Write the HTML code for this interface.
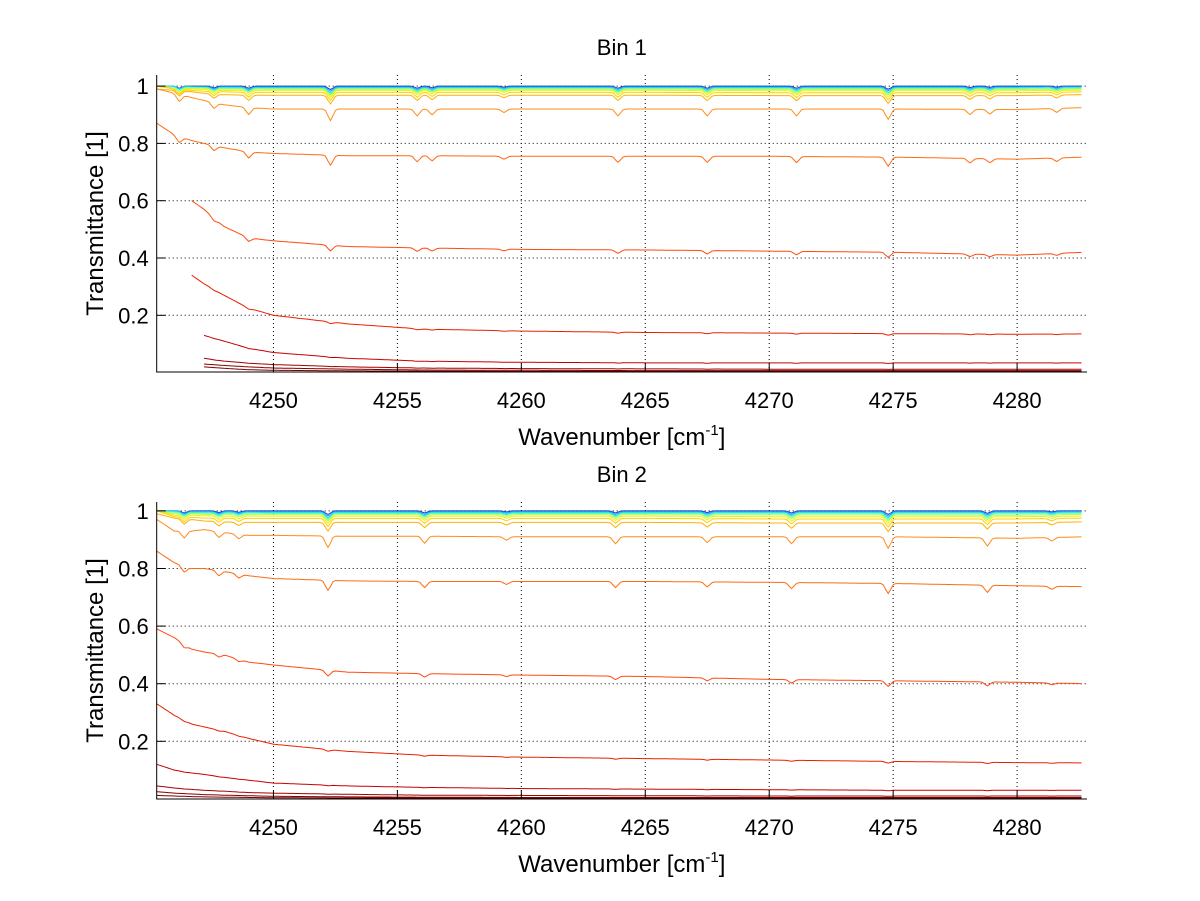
<!DOCTYPE html>
<html><head><meta charset="utf-8">
<style>
html,body{margin:0;padding:0;background:#fff;}
svg{display:block;font-family:"Liberation Sans",sans-serif;}
</style></head>
<body>
<svg id="fig" width="1200" height="901" viewBox="0 0 1200 901" xmlns="http://www.w3.org/2000/svg">
<rect width="1200" height="901" fill="#fff"/>
</svg>
<script>
// ---- data ----
const xTicks = [4250, 4255, 4260, 4265, 4270, 4275, 4280];
const yTicks = [0.2, 0.4, 0.6, 0.8, 1];
const yTickLabels = ["0.2", "0.4", "0.6", "0.8", "1"];
const panelTitles = ["Bin 1", "Bin 2"];
const gridX = [4245.3, 4246, 4246.7, 4247.2, 4248, 4249, 4250, 4253, 4256, 4260, 4265, 4270, 4275, 4280, 4282.7];
// absorption lines [position, relative depth]
const lines1 = [[4246.2,0.6],[4247.6,0.5],[4249.0,0.6],[4252.3,1.0],[4255.8,0.6],[4256.4,0.5],[4259.3,0.3],[4263.9,0.6],[4267.5,0.6],[4271.1,0.6],[4274.8,0.9],[4278.1,0.45],[4278.9,0.4],[4281.6,0.35]];
const lines2 = [[4246.4,0.6],[4247.8,0.5],[4248.6,0.4],[4252.2,1.0],[4256.1,0.6],[4259.4,0.3],[4263.8,0.6],[4267.5,0.5],[4270.9,0.6],[4274.8,1.0],[4278.8,0.7],[4281.4,0.3]];
const colors = ["#2040c0","#20a0ff","#20e0ff","#60ffa0","#b0ff50","#f0f000","#ffd000","#ffb000","#ff8c1a","#ff6a10","#ff4a10","#e82000","#c80000","#a00000","#800000","#7a0000"];
// values at gridX (null = not started)
const series1 = [
 [1.0,1.0,1.0,1.0,1.0,1.0,1.0,1.0,1.0,1.0,1.0,1.0,1.0,1.0,1.0],
 [1.0,1.0,0.998,0.998,0.998,0.997,0.997,0.997,0.997,0.997,0.997,0.997,0.997,0.997,0.998],
 [1.0,1.0,0.997,0.996,0.995,0.995,0.994,0.994,0.994,0.994,0.994,0.994,0.994,0.994,0.995],
 [1.0,0.995,0.995,0.994,0.993,0.992,0.992,0.992,0.992,0.992,0.992,0.992,0.992,0.992,0.993],
 [1.0,0.995,0.993,0.992,0.99,0.99,0.989,0.989,0.989,0.989,0.989,0.988,0.988,0.988,0.99],
 [1.0,0.99,0.99,0.988,0.985,0.985,0.985,0.985,0.985,0.985,0.985,0.984,0.984,0.984,0.986],
 [1.0,0.99,0.985,0.982,0.98,0.978,0.978,0.978,0.978,0.978,0.978,0.977,0.977,0.977,0.98],
 [0.99,0.985,0.98,0.975,0.97,0.968,0.968,0.968,0.968,0.968,0.968,0.967,0.967,0.967,0.97],
 [0.99,0.975,0.96,0.95,0.935,0.925,0.92,0.92,0.92,0.92,0.92,0.92,0.92,0.918,0.925],
 [0.87,0.83,0.81,0.8,0.785,0.77,0.765,0.757,0.757,0.755,0.755,0.755,0.752,0.745,0.752],
 [null,null,0.6,0.57,0.51,0.47,0.46,0.44,0.435,0.43,0.428,0.424,0.42,0.41,0.42],
 [null,null,0.34,0.31,0.27,0.225,0.2,0.17,0.152,0.145,0.14,0.138,0.136,0.134,0.135],
 [null,null,null,0.13,0.11,0.085,0.07,0.05,0.04,0.036,0.034,0.034,0.034,0.034,0.034],
 [null,null,null,0.05,0.04,0.033,0.028,0.02,0.016,0.014,0.013,0.012,0.012,0.012,0.012],
 [null,null,null,0.03,0.025,0.02,0.016,0.012,0.009,0.008,0.007,0.007,0.007,0.007,0.007],
 [null,null,null,0.02,0.015,0.01,0.008,0.006,0.005,0.004,0.004,0.004,0.004,0.004,0.004]
];
const series2 = [
 [1.0,1.0,1.0,1.0,1.0,1.0,1.0,1.0,1.0,1.0,1.0,1.0,1.0,1.0,1.0],
 [1.0,1.0,0.998,0.998,0.998,0.997,0.997,0.997,0.997,0.997,0.997,0.997,0.997,0.997,0.998],
 [1.0,0.998,0.996,0.995,0.995,0.995,0.994,0.994,0.994,0.994,0.994,0.994,0.994,0.994,0.995],
 [1.0,0.995,0.993,0.992,0.992,0.992,0.991,0.991,0.991,0.991,0.991,0.99,0.99,0.99,0.992],
 [1.0,0.99,0.99,0.988,0.988,0.987,0.987,0.987,0.987,0.987,0.987,0.986,0.986,0.985,0.988],
 [1.0,0.985,0.985,0.983,0.982,0.982,0.982,0.982,0.982,0.982,0.982,0.98,0.98,0.98,0.982],
 [1.0,0.98,0.978,0.975,0.975,0.974,0.974,0.974,0.974,0.974,0.974,0.972,0.972,0.972,0.975],
 [0.99,0.975,0.97,0.965,0.962,0.96,0.96,0.96,0.96,0.96,0.96,0.958,0.958,0.958,0.962],
 [0.97,0.93,0.93,0.935,0.925,0.915,0.915,0.912,0.912,0.91,0.91,0.91,0.91,0.905,0.91],
 [0.86,0.82,0.8,0.8,0.79,0.775,0.765,0.757,0.755,0.755,0.755,0.752,0.748,0.74,0.737],
 [0.59,0.56,0.52,0.51,0.5,0.475,0.465,0.44,0.435,0.43,0.425,0.415,0.41,0.405,0.4],
 [0.33,0.29,0.26,0.25,0.235,0.21,0.19,0.165,0.152,0.145,0.14,0.135,0.13,0.126,0.125],
 [0.12,0.1,0.09,0.085,0.075,0.065,0.055,0.045,0.04,0.036,0.034,0.032,0.03,0.03,0.03],
 [0.045,0.038,0.033,0.03,0.027,0.022,0.02,0.016,0.013,0.012,0.011,0.01,0.01,0.01,0.01],
 [0.025,0.02,0.017,0.015,0.013,0.011,0.009,0.007,0.006,0.005,0.005,0.005,0.005,0.005,0.005],
 [0.012,0.01,0.008,0.007,0.006,0.005,0.004,0.003,0.003,0.003,0.003,0.003,0.003,0.003,0.003]
];
const dipScale = [0.012,0.015,0.018,0.02,0.022,0.025,0.028,0.03,0.04,0.035,0.02,0.006,0.002,0.001,0.0,0.0];

const panels = [
 {title: panelTitles[0], series: series1, lines: lines1, left:156.7, right:1087, top:75, bottom:372, y02:315.3, yStep:57.3, titleY:55, tickY:408, xlabY:445},
 {title: panelTitles[1], series: series2, lines: lines2, left:156.7, right:1087, top:502, bottom:799, y02:741.3, yStep:57.6, titleY:482, tickY:835, xlabY:872}
];
const xMin = 4245.29, xMax = 4282.82;
const NS = "http://www.w3.org/2000/svg";
const svg = document.getElementById('fig');
function mk(tag, attrs, parent){
  const e = document.createElementNS(NS, tag);
  for (const k in attrs) e.setAttribute(k, attrs[k]);
  (parent||svg).appendChild(e);
  return e;
}
function interp(xs, ys, x){
  for (let i=0;i<xs.length-1;i++){
    if (x>=xs[i] && x<=xs[i+1]){
      if (ys[i]===null) return null;
      const t=(x-xs[i])/(xs[i+1]-xs[i]);
      return ys[i]+(ys[i+1]-ys[i])*t;
    }
  }
  return null;
}
panels.forEach((p, pi) => {
  const g = mk('g', {});
  
  
  const xs = v => p.left + (v - xMin) / (xMax - xMin) * (p.right - p.left);
  const ys = v => p.y02 - (v - 0.2) / 0.2 * p.yStep;
  xTicks.forEach(t => {
    const l = mk('line', {x1:xs(t), x2:xs(t), y1:p.top, y2:p.bottom, stroke:'#000', 'stroke-width':1, 'stroke-dasharray':'1,3'}, g);
    
    
  });
  yTicks.forEach(t => {
    const l = mk('line', {x1:p.left, x2:p.right, y1:ys(t), y2:ys(t), stroke:'#000', 'stroke-width':1, 'stroke-dasharray':'1,3'}, g);
    
    
  });
  const clip = mk('clipPath', {id:'clip'+pi}, g);
  mk('rect', {x:p.left, y:p.top, width:p.right-p.left, height:p.bottom-p.top}, clip);
  const sg = mk('g', {'clip-path':'url(#clip'+pi+')'}, g);
  for (let si = 0; si < p.series.length; si++) {
    const vals = p.series[si];
    let d = '';
    for (let x = gridX[0]; x <= gridX[gridX.length-1]; x += 0.1) {
      let v = interp(gridX, vals, x);
      if (v === null) continue;
      p.lines.forEach(([c, dep]) => {
        v -= dipScale[si] * dep * Math.exp(-Math.pow((x - c) / 0.14, 2));
      });
      d += (d ? 'L' : 'M') + xs(x).toFixed(1) + ',' + ys(v).toFixed(1);
    }
    const path = mk('path', {d:d, fill:'none', stroke:colors[si], 'stroke-width':1}, sg);
    
    
  }
  const ax = mk('path', {d:`M${p.left},${p.top}V${p.bottom}H${p.right}`, fill:'none', stroke:'#000', 'stroke-width':1}, g);
  
  
  xTicks.forEach(t => {
    mk('line', {x1:xs(t), x2:xs(t), y1:p.bottom, y2:p.bottom-9, stroke:'#000'}, g);
    const tx = mk('text', {x:xs(t), y:p.tickY, 'font-size':22, 'text-anchor':'middle', fill:'#000'}, g);
    tx.textContent = t;
    
    
  });
  yTicks.forEach((t, i) => {
    mk('line', {x1:p.left, x2:p.left+9, y1:ys(t), y2:ys(t), stroke:'#000'}, g);
    const ty = mk('text', {x:p.left-8, y:ys(t)+8, 'font-size':22, 'text-anchor':'end', fill:'#000'}, g);
    ty.textContent = yTickLabels[i];
    
    
  });
  const title = mk('text', {x:(p.left+p.right)/2, y:p.titleY, 'font-size':22, 'text-anchor':'middle', fill:'#000'}, g);
  title.textContent = p.title;
  
  
  const xl = mk('text', {x:(p.left+p.right)/2, y:p.xlabY, 'font-size':24, 'text-anchor':'middle', fill:'#000'}, g);
  xl.innerHTML = 'Wavenumber [cm<tspan dy="-10" font-size="15">-1</tspan><tspan dy="10">]</tspan>';
  
  
  const cy = (p.top + p.bottom) / 2;
  const yl = mk('text', {x:0, y:0, 'font-size':24, 'text-anchor':'middle', fill:'#000', transform:`translate(103,${cy}) rotate(-90)`}, g);
  yl.textContent = 'Transmittance [1]';
  
  
});
</script>
</body></html>
